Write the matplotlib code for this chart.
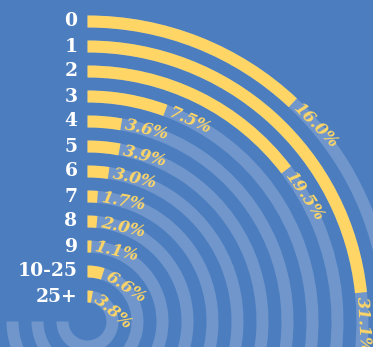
import numpy as np
import matplotlib
matplotlib.use("Agg")
import matplotlib.pyplot as plt

# Share of records per bucket
categories = ["0", "1", "2", "3", "4", "5", "6", "7", "8", "9", "10-25", "25+"]
values = [16.0, 31.1, 19.5, 7.5, 3.6, 3.9, 3.0, 1.7, 2.0, 1.1, 6.6, 3.8]
value_labels = ["16.0%", "31.1%", "19.5%", "7.5%", "3.6%", "3.9%", "3.0%",
                "1.7%", "2.0%", "1.1%", "6.6%", "3.8%"]

BG = "#4C7EBF"
TRACK = "#7096CC"
BAR = "#FFD666"

W, H, DPI = 373, 347, 100
fig = plt.figure(figsize=(W / DPI, H / DPI), dpi=DPI, facecolor=BG)

# polar axes whose radial unit is one pixel, centred near the bottom-left
R = 345.0
cx, cy = 87.5, H - 321.5
ax = fig.add_axes([(cx - R) / W, (cy - R) / H, 2 * R / W, 2 * R / H],
                  projection="polar")
ax.set_theta_zero_location("N")
ax.set_theta_direction(-1)
ax.set_ylim(0, R)
ax.axis("off")

full_sweep = 270.0          # 100 % maps to three quarters of a turn
thick = 12.0
step = 25.0
n = len(categories)

for i, (cat, v, lab) in enumerate(zip(categories, values, value_labels)):
    r = step * (n - i)
    # background track
    ax.bar(0, thick, width=np.radians(full_sweep), bottom=r - thick / 2,
           align="edge", color=TRACK, linewidth=0)
    # value bar
    sweep = np.radians(full_sweep * v / 100.0)
    ax.bar(0, thick, width=sweep, bottom=r - thick / 2,
           align="edge", color=BAR, linewidth=0)
    # category label to the left of the bar start
    ax.annotate(cat, xy=(0, r), xytext=(-10, 0), textcoords="offset pixels",
                ha="right", va="center", color="white", fontsize=13.5,
                fontweight="bold", family="DejaVu Serif")
    # value label following the arc just past the bar end
    theta_lab = sweep + 4.0 / r
    rot = -(np.degrees(sweep) + np.degrees(13.0 / r))
    ax.text(theta_lab, r, lab, rotation=rot, rotation_mode="anchor",
            ha="left", va="center", color=BAR, fontsize=12,
            style="italic", fontweight="semibold", family="DejaVu Serif")

fig.savefig("out.png", dpi=DPI, facecolor=BG)
